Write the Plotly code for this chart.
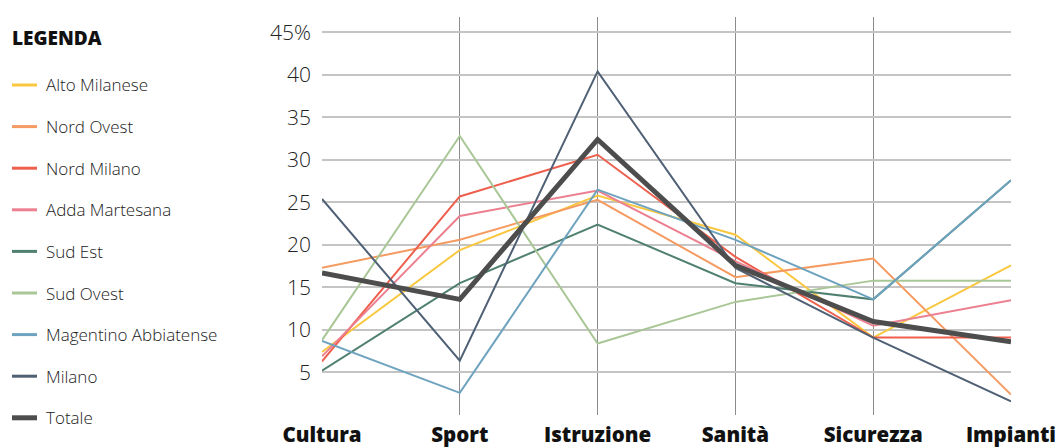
import plotly.graph_objects as go

categories = ["Cultura", "Sport", "Istruzione", "Sanità", "Sicurezza", "Impianti"]

series_names = ["Alto Milanese", "Nord Ovest", "Nord Milano", "Adda Martesana",
                "Sud Est", "Sud Ovest", "Magentino Abbiatense", "Milano", "Totale"]

alto_milanese = [7.4, 19.4, 25.8, 21.2, 9.1, 17.6]
nord_ovest = [17.3, 20.6, 25.3, 16.2, 18.4, 2.4]
nord_milano = [6.3, 25.7, 30.6, 18.6, 9.1, 9.1]
adda_martesana = [6.9, 23.4, 26.4, 18.1, 10.5, 13.5]
sud_est = [5.2, 15.5, 22.4, 15.5, 13.6, 27.6]
sud_ovest = [8.8, 32.8, 8.4, 13.3, 15.8, 15.8]
magentino = [8.7, 2.6, 26.5, 20.6, 13.6, 27.6]
milano = [25.4, 6.4, 40.4, 17.3, 9.1, 1.6]
totale = [16.7, 13.6, 32.4, 17.6, 11.0, 8.6]

values = [alto_milanese, nord_ovest, nord_milano, adda_martesana,
          sud_est, sud_ovest, magentino, milano, totale]
colors = ["#f9c740", "#f59b62", "#ee5f4d", "#ec8090",
          "#4f8070", "#a9c796", "#6ea3bf", "#4f6075", "#4d4d4d"]
widths = [2, 2, 2, 2, 2, 2, 2, 2, 5]

tick_vals = [5, 10, 15, 20, 25, 30, 35, 40, 45]
tick_text = ["5", "10", "15", "20", "25", "30", "35", "40", "45%"]

W, H = 1058, 447
ML, MR, MT, MB = 322, 47, 17, 32
PW, PH = W - ML - MR, H - MT - MB


def px_x(p):
    return (p - ML) / PW


def px_y(p):
    return (H - MB - p) / PH


fig = go.Figure()
for i, (name, vals) in enumerate(zip(series_names, values)):
    fig.add_trace(go.Scatter(
        x=categories, y=vals, mode="lines", name=name,
        line=dict(color=colors[i], width=widths[i]),
        cliponaxis=False, showlegend=False,
    ))

# manual legend (left column)
shapes = []
annotations = [dict(
    text="LEGENDA", xref="paper", yref="paper",
    x=px_x(10), y=px_y(38), xanchor="left", yanchor="middle",
    showarrow=False,
    font=dict(size=19, color="#111", family="Open Sans, sans-serif", weight=800),
)]
legend_y0, legend_step = 85, 41.6
for i, name in enumerate(series_names):
    yy = legend_y0 + i * legend_step
    shapes.append(dict(
        type="line", xref="paper", yref="paper",
        x0=px_x(12), x1=px_x(37), y0=px_y(yy), y1=px_y(yy),
        line=dict(color=colors[i], width=3 if i < 8 else 5),
    ))
    annotations.append(dict(
        text=name, xref="paper", yref="paper",
        x=px_x(44), y=px_y(yy), xanchor="left", yanchor="middle",
        showarrow=False,
        font=dict(size=17, color="#222", family="Open Sans, sans-serif", weight=300),
    ))

fig.update_layout(
    width=W, height=H,
    margin=dict(l=ML, r=MR, t=MT, b=MB, autoexpand=False),
    paper_bgcolor="white", plot_bgcolor="white",
    font=dict(family="Open Sans, sans-serif", color="#222"),
    showlegend=False,
    shapes=shapes, annotations=annotations,
    xaxis=dict(
        type="category", range=[0, 5], automargin=False,
        showgrid=True, gridcolor="#8c8c8c", gridwidth=1,
        showline=False, zeroline=False, ticks="",
        ticklabelstandoff=5,
        tickfont=dict(size=20.5, color="#111", family="Open Sans, sans-serif", weight=800),
    ),
    yaxis=dict(
        range=[0, 46.8], tickvals=tick_vals, ticktext=tick_text, automargin=False,
        showgrid=True, gridcolor="#c4c4c4", gridwidth=2,
        zeroline=False, showline=False, ticks="",
        ticklabelstandoff=10,
        tickfont=dict(size=21, color="#222", family="Open Sans, sans-serif", weight=300),
    ),
)

fig.write_html("out.html", config={"displayModeBar": False},
               post_script="document.body.style.margin='0';")
